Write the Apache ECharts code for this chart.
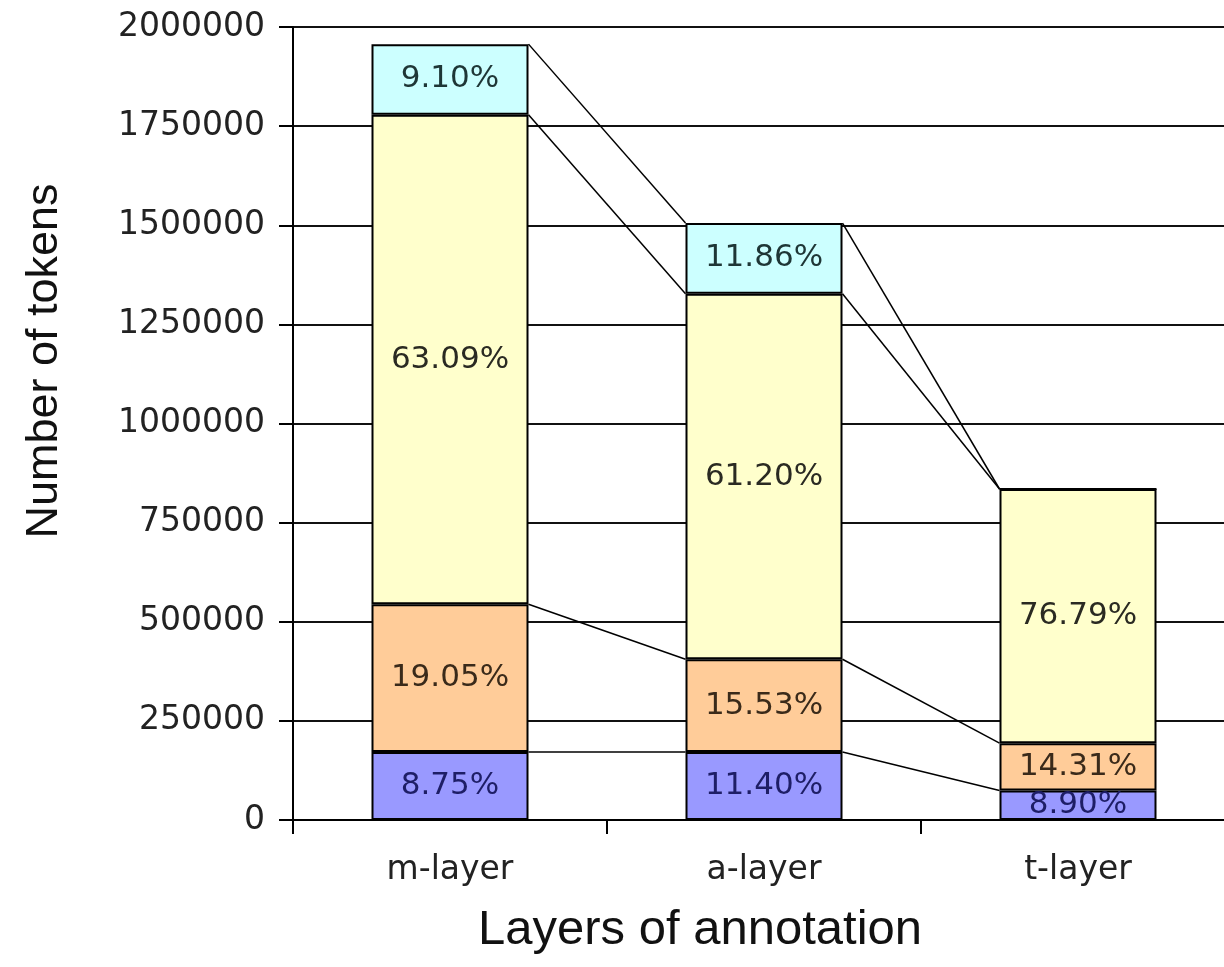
<!DOCTYPE html>
<html>
<head>
<meta charset="utf-8">
<title>Layers of annotation</title>
<script src="https://cdn.jsdelivr.net/npm/echarts@6/dist/echarts.min.js"></script>
<style>
  html, body { margin: 0; padding: 0; background: #fff; overflow: hidden; }
  /* the plot area runs a little past the right edge of the window */
  #chart { width: 1235px; height: 967px; }
</style>
</head>
<body>
<div id="chart"></div>
<script>
// values (tokens per segment)
const categories = ['m-layer', 'a-layer', 't-layer'];
const blueVals = [171250, 171650, 74300];
const orangeVals = [372800, 233850, 119450];
const yellowVals = [1234650, 921500, 641050];
const cyanVals = [178100, 178550, 0];

// percent labels printed in each segment
const bluePct = ['8.75%', '11.40%', '8.90%'];
const orangePct = ['19.05%', '15.53%', '14.31%'];
const yellowPct = ['63.09%', '61.20%', '76.79%'];
const cyanPct = ['9.10%', '11.86%', ''];

const yTicks = [0, 250000, 500000, 750000, 1000000, 1250000, 1500000, 1750000, 2000000];

const numFont = 'DejaVu Sans';
const titleFont = 'Liberation Sans';

const chart = echarts.init(document.getElementById('chart'));

// cumulative tops of each segment, used for the series lines
const layers = [blueVals, orangeVals, yellowVals, cyanVals];
const tops = [];
let run = categories.map(() => 0);
layers.forEach(arr => {
  run = run.map((v, i) => v + arr[i]);
  tops.push(run.slice());
});
const links = [];
tops.forEach(t => {
  for (let i = 0; i < categories.length - 1; i++) {
    links.push([i, t[i], t[i + 1]]);
  }
});

function barSeries(name, vals, pct, color, textColor) {
  return {
    name: name,
    type: 'bar',
    stack: 'total',
    barWidth: '50%',
    data: vals,
    itemStyle: { color: color, borderColor: '#000', borderWidth: 2 },
    label: {
      show: true,
      position: 'inside',
      fontFamily: numFont,
      fontSize: 31,
      color: textColor,
      formatter: p => pct[p.dataIndex]
    },
    emphasis: { disabled: true },
    z: 3
  };
}

chart.setOption({
  backgroundColor: '#fff',
  animation: false,
  grid: { left: 293, right: 0, top: 27, bottom: 147, containLabel: false },
  xAxis: {
    type: 'category',
    data: categories,
    axisLine: { lineStyle: { color: '#000', width: 2 } },
    axisTick: { show: true, length: 14, lineStyle: { color: '#000', width: 2 } },
    axisLabel: { fontFamily: numFont, fontSize: 33, color: '#222', margin: 34 },
    splitLine: { show: false }
  },
  yAxis: {
    type: 'value',
    min: yTicks[0],
    max: yTicks[yTicks.length - 1],
    interval: 250000,
    axisLine: { show: true, lineStyle: { color: '#000', width: 2 } },
    axisTick: { show: true, length: 14, lineStyle: { color: '#000', width: 2 } },
    axisLabel: {
      fontFamily: numFont, fontSize: 33, color: '#222', margin: 28,
      formatter: v => String(v)
    },
    splitLine: { show: true, lineStyle: { color: '#111', width: 2 } }
  },
  graphic: [
    {
      type: 'text',
      x: 45, y: 361,
      rotation: Math.PI / 2,
      style: {
        text: 'Number of tokens',
        font: '45px "' + titleFont + '"',
        fill: '#111',
        textAlign: 'center',
        textVerticalAlign: 'middle'
      }
    },
    {
      type: 'text',
      x: 700, y: 930,
      style: {
        text: 'Layers of annotation',
        font: '49px "' + titleFont + '"',
        fill: '#111',
        textAlign: 'center',
        textVerticalAlign: 'middle'
      }
    }
  ],
  series: [
    barSeries('blue', blueVals, bluePct, '#9999ff', '#1e1e66'),
    barSeries('orange', orangeVals, orangePct, '#ffcc99', '#3a2a1a'),
    barSeries('yellow', yellowVals, yellowPct, '#ffffcc', '#2a2a22'),
    barSeries('cyan', cyanVals, cyanPct, '#ccffff', '#1e3636'),
    {
      type: 'custom',
      data: links,
      encode: { x: 0, y: [1, 2] },
      silent: true,
      clip: false,
      z: 2,
      renderItem: function (params, api) {
        const i = api.value(0);
        const p0 = api.coord([i, api.value(1)]);
        const p1 = api.coord([i + 1, api.value(2)]);
        const half = api.size([1, 0])[0] * 0.25;
        return {
          type: 'line',
          shape: { x1: p0[0] + half, y1: p0[1], x2: p1[0] - half, y2: p1[1] },
          style: { stroke: '#000', lineWidth: 1.5 }
        };
      }
    }
  ]
});
</script>
</body>
</html>
